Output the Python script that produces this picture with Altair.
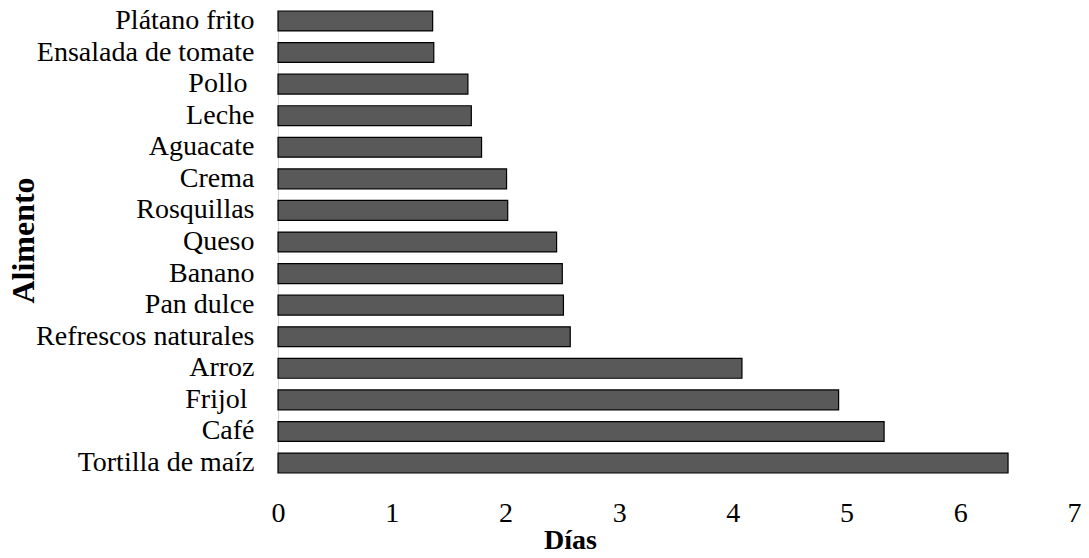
import altair as alt
import pandas as pd

alimentos = ["Plátano frito", "Ensalada de tomate", "Pollo ", "Leche", "Aguacate",
             "Crema", "Rosquillas", "Queso", "Banano", "Pan dulce",
             "Refrescos naturales", "Arroz", "Frijol ", "Café", "Tortilla de maíz"]
dias = [1.36, 1.37, 1.67, 1.70, 1.79, 2.01, 2.02, 2.45, 2.50, 2.51,
        2.57, 4.08, 4.93, 5.33, 6.42]
x_ticks = [0, 1, 2, 3, 4, 5, 6, 7]

df = pd.DataFrame({"Alimento": alimentos, "Días": dias})

FONT = "Liberation Serif"

chart = alt.Chart(df).mark_bar(
    fill="#595959", stroke="#000000", strokeWidth=1.2
).encode(
    x=alt.X(
        "Días:Q",
        scale=alt.Scale(domain=[0, 7], nice=False, zero=True),
        axis=alt.Axis(
            values=x_ticks, format="d", domain=False, ticks=False, tickSize=0,
            grid=False, labelFont=FONT, labelFontSize=28, labelColor="black",
            labelPadding=48, labelBaseline="alphabetic", labelFlush=False,
            title="Días", titleFont=FONT, titleFontSize=28, titleFontWeight="bold",
            titleColor="black", titleX=292, titleY=75, titleAlign="center",
            titleBaseline="alphabetic",
        ),
    ),
    y=alt.Y(
        "Alimento:N",
        sort=alimentos,
        scale=alt.Scale(paddingInner=0.37, paddingOuter=0),
        axis=alt.Axis(
            domain=True, domainColor="#d9d9d9", domainWidth=1, ticks=False,
            tickSize=0, grid=False, labelFont=FONT, labelFontSize=28,
            labelColor="black",
            labelPadding={"condition": {"test": "test(regexp(' $'), datum.label)", "value": 31}, "value": 24},
            labelLimit=500, labelOverlap=False,
            title="Alimento", titleFont=FONT, titleFontSize=32,
            titleFontWeight="bold", titleColor="black", titleAngle=270,
            titleX=-255, titleY=229, titleAlign="center", titleBaseline="middle",
        ),
    ),
).properties(
    width=796,
    height=462,
    padding={"left": 270, "top": 3, "right": 7, "bottom": 77},
    autosize=alt.AutoSizeParams(type="none"),
    background="white",
).configure_view(stroke=None)

chart.save("out.html", embed_options={"renderer": "svg", "actions": False})
